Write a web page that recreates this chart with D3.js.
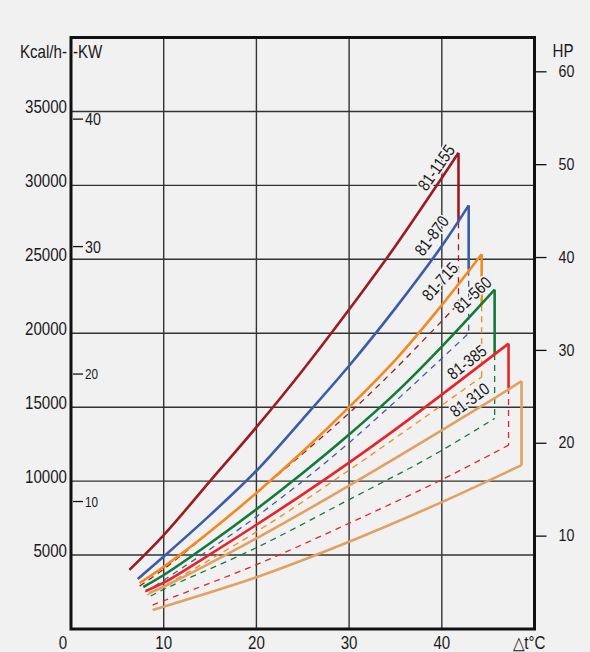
<!DOCTYPE html>
<html>
<head>
<meta charset="utf-8">
<script src="https://cdn.jsdelivr.net/npm/d3@7"></script>
<style>
  html, body { margin: 0; padding: 0; background: #f1f1f1; }
  svg text { font-family: "Liberation Sans Narrow", "Arial Narrow", "Liberation Sans", Arial, sans-serif; fill: #1a1a1a; }
</style>
</head>
<body>
<div id="chart"></div>
<script>
////////////////////////////////////////////////////////////
//////////////////////// Data //////////////////////////////
////////////////////////////////////////////////////////////

var xTicks    = [0, 10, 20, 30, 40];
var kcalTicks = [5000, 10000, 15000, 20000, 25000, 30000, 35000];
var kwTicks   = [10, 20, 30, 40];
var hpTicks   = [10, 20, 30, 40, 50, 60];

var models = ["81-1155", "81-870", "81-715", "81-560", "81-385", "81-310"];
var colors = ["#9b1b20", "#3a5ca9", "#f48a1f", "#137a3a", "#e8232a", "#e2a062"];

// upper curves [delta t, kcal/h]
var up1155 = [[6.3, 4000], [10, 6350], [15, 10000], [20, 13650], [25, 17500], [30, 21600], [35, 25900], [40, 30500], [41.8, 32200]];
var up870  = [[7.2, 3380], [10, 4900], [15, 7700], [20, 10700], [25, 14200], [30, 17800], [35, 21700], [40, 25900], [42.9, 28650]];
var up715  = [[7.4, 3110], [10, 4210], [15, 6600], [20, 9200], [25, 12000], [30, 15000], [35, 18200], [40, 21900], [44.3, 25340]];
var up560  = [[7.8, 2840], [10, 3650], [15, 5800], [20, 8100], [25, 10550], [30, 13150], [35, 15950], [40, 19100], [45.7, 22950]];
var up385  = [[8.05, 2570], [10, 3130], [15, 5050], [20, 7050], [25, 9100], [30, 11250], [35, 13500], [40, 15850], [47.2, 19300]];
var up310  = [[8.4, 2430], [10, 2860], [20, 6130], [30, 9700], [44.1, 15000], [48.6, 16760]];

// lower curves
var low1155 = [[7.4, 2900], [10, 4050], [20, 9200], [30, 14600], [35, 17600], [41.8, 22000]];
var low870  = [[8, 2500], [10, 3300], [20, 7600], [30, 12600], [42.9, 20000]];
var low715  = [[8.2, 2300], [10, 2900], [20, 6570], [30, 10740], [44.3, 17050]];
var low560  = [[8.6, 2230], [10, 2680], [20, 5500], [30, 8750], [38.8, 11650], [45.7, 14240]];
var low385  = [[8.8, 1620], [10, 1910], [20, 4350], [30, 7150], [40, 10100], [47.2, 12430]];
var low310  = [[8.8, 1280], [10, 1510], [20, 3500], [30, 5900], [40, 8580], [48.6, 11080]];

// where the solid right edge stops (next curve passes over it)
var solidTo = [27500, 24300, 21900, 18600, 16300, 11080];
var lowerSolid = [false, false, false, false, false, true];

// label anchors [delta t, kcal/h] and rotation
var labelPos   = [[39.4, 31200], [38.9, 26600], [39.8, 23500], [43.3, 22600], [42.7, 18050], [43.0, 15500]];
var labelAngle = [-55, -53, -48, -43, -38, -37];

var uppers = [up1155, up870, up715, up560, up385, up310];
var lowers = [low1155, low870, low715, low560, low385, low310];

////////////////////////////////////////////////////////////
//////////////////// Set up the SVG ////////////////////////
////////////////////////////////////////////////////////////

var width = 590, height = 652;
var mLeft = 71, mRight = 534.5, mTop = 37.5, mBottom = 629;
var squeeze = 0.84; // narrow type like the original
var bg = "#f1f1f1";

var svg = d3.select("#chart").append("svg")
    .attr("width", width)
    .attr("height", height);

svg.append("rect")
    .attr("width", width).attr("height", height)
    .attr("fill", bg);

var x = d3.scaleLinear().domain([0, 50]).range([mLeft, mRight]);
var y = d3.scaleLinear().domain([0, 40000]).range([mBottom, mTop]);
var kw = d3.scaleLinear().domain([0, 40000 / 862]).range([mBottom, mTop]);
var hp = d3.scaleLinear().domain([0, 40000 / 628]).range([mBottom, mTop]);

//places a text with narrow glyphs
function label(sel, px, py, extra) {
  return sel.attr("transform", "translate(" + px + "," + py + ")" + (extra || "") + " scale(" + squeeze + ",1)");
}

//Grid
var grid = svg.append("g").attr("stroke", "#333").attr("stroke-width", 1.4);
grid.selectAll(".hgrid")
  .data(kcalTicks)
  .enter().append("line")
    .attr("x1", mLeft).attr("x2", mRight)
    .attr("y1", function(d) { return y(d); })
    .attr("y2", function(d) { return y(d); });
grid.selectAll(".vgrid")
  .data(xTicks.filter(function(d) { return d > 0; }))
  .enter().append("line")
    .attr("y1", mTop).attr("y2", mBottom)
    .attr("x1", function(d) { return x(d); })
    .attr("x2", function(d) { return x(d); });

////////////////////////////////////////////////////////////
/////////////////////// Curves /////////////////////////////
////////////////////////////////////////////////////////////

var line = d3.line()
    .x(function(d) { return x(d[0]); })
    .y(function(d) { return y(d[1]); })
    .curve(d3.curveCatmullRom.alpha(0.5));

var curves = svg.append("g").attr("fill", "none");

//dashed parts first
models.forEach(function(m, i) {
  var up = uppers[i], low = lowers[i];
  var tEnd = up[up.length - 1][0];
  if (!lowerSolid[i]) {
    curves.append("path")
      .attr("d", line(low))
      .attr("stroke", colors[i])
      .attr("stroke-width", 1.3)
      .attr("stroke-dasharray", "6,5");
    curves.append("line")
      .attr("x1", x(tEnd)).attr("x2", x(tEnd))
      .attr("y1", y(solidTo[i])).attr("y2", y(low[low.length - 1][1]))
      .attr("stroke", colors[i])
      .attr("stroke-width", 1.3)
      .attr("stroke-dasharray", "6,5");
  }
});

//solid parts
models.forEach(function(m, i) {
  var up = uppers[i], low = lowers[i];
  var tEnd = up[up.length - 1][0];
  curves.append("path")
    .attr("d", line(up))
    .attr("stroke", colors[i])
    .attr("stroke-width", 2.6);
  curves.append("line")
    .attr("x1", x(tEnd)).attr("x2", x(tEnd))
    .attr("y1", y(up[up.length - 1][1])).attr("y2", y(solidTo[i]))
    .attr("stroke", colors[i])
    .attr("stroke-width", 2.6);
  if (lowerSolid[i]) {
    curves.append("path")
      .attr("d", line(low))
      .attr("stroke", colors[i])
      .attr("stroke-width", 2.6);
  }
});

//curve labels, with a halo that cuts the grid behind them
svg.selectAll(".model-label")
  .data(models)
  .enter().append("text")
    .attr("class", "model-label")
    .attr("text-anchor", "middle")
    .attr("dy", "0.35em")
    .attr("font-size", 17)
    .attr("stroke", bg)
    .attr("stroke-width", 3.5)
    .attr("paint-order", "stroke")
    .each(function(d, i) {
      label(d3.select(this), x(labelPos[i][0]), y(labelPos[i][1]), " rotate(" + labelAngle[i] + ")");
    })
    .text(function(d) { return d; });

////////////////////////////////////////////////////////////
//////////////////////// Axes //////////////////////////////
////////////////////////////////////////////////////////////

//frame
svg.append("rect")
    .attr("x", mLeft).attr("y", mTop)
    .attr("width", mRight - mLeft).attr("height", mBottom - mTop)
    .attr("fill", "none")
    .attr("stroke", "#111")
    .attr("stroke-width", 3);

//kcal/h labels
svg.selectAll(".kcal")
  .data(kcalTicks)
  .enter().append("text")
    .attr("class", "kcal")
    .attr("text-anchor", "end")
    .attr("font-size", 18)
    .each(function(d) { label(d3.select(this), mLeft - 4, y(d) + 2); })
    .text(function(d) { return d; });

label(svg.append("text"), mLeft - 4, 57.5)
    .attr("text-anchor", "end")
    .attr("font-size", 18)
    .text("Kcal/h-");

//kW ticks inside the left axis
var kwG = svg.append("g");
kwG.selectAll("line")
  .data(kwTicks)
  .enter().append("line")
    .attr("x1", mLeft + 2).attr("x2", mLeft + 12)
    .attr("y1", function(d) { return kw(d); })
    .attr("y2", function(d) { return kw(d); })
    .attr("stroke", "#111").attr("stroke-width", 1.3);
kwG.selectAll("text")
  .data(kwTicks)
  .enter().append("text")
    .attr("dy", "0.36em")
    .attr("font-size", function(d) { return d >= 30 ? 17 : 14; })
    .each(function(d) { label(d3.select(this), mLeft + 14, kw(d)); })
    .text(function(d) { return d; });

label(svg.append("text"), mLeft + 2, 57.5)
    .attr("font-size", 18)
    .text("-KW");

//HP ticks on the right
var hpG = svg.append("g");
hpG.selectAll("line")
  .data(hpTicks)
  .enter().append("line")
    .attr("x1", mRight + 1.5).attr("x2", mRight + 12)
    .attr("y1", function(d) { return hp(d); })
    .attr("y2", function(d) { return hp(d); })
    .attr("stroke", "#111").attr("stroke-width", 1.3);
hpG.selectAll("text")
  .data(hpTicks)
  .enter().append("text")
    .attr("dy", "0.3em")
    .attr("font-size", 17)
    .each(function(d) { label(d3.select(this), mRight + 24, hp(d)); })
    .text(function(d) { return d; });

label(svg.append("text"), mRight + 18, 57)
    .attr("font-size", 18)
    .text("HP");

//x labels
svg.selectAll(".xlab")
  .data(xTicks)
  .enter().append("text")
    .attr("class", "xlab")
    .attr("text-anchor", "middle")
    .attr("font-size", 18)
    .each(function(d) { label(d3.select(this), d === 0 ? x(d) - 8 : x(d), 648.5); })
    .text(function(d) { return d; });

label(svg.append("text"), 529, 648.5)
    .attr("text-anchor", "middle")
    .attr("font-size", 18)
    .text("\u25B3t\u00B0C");
</script>
</body>
</html>
